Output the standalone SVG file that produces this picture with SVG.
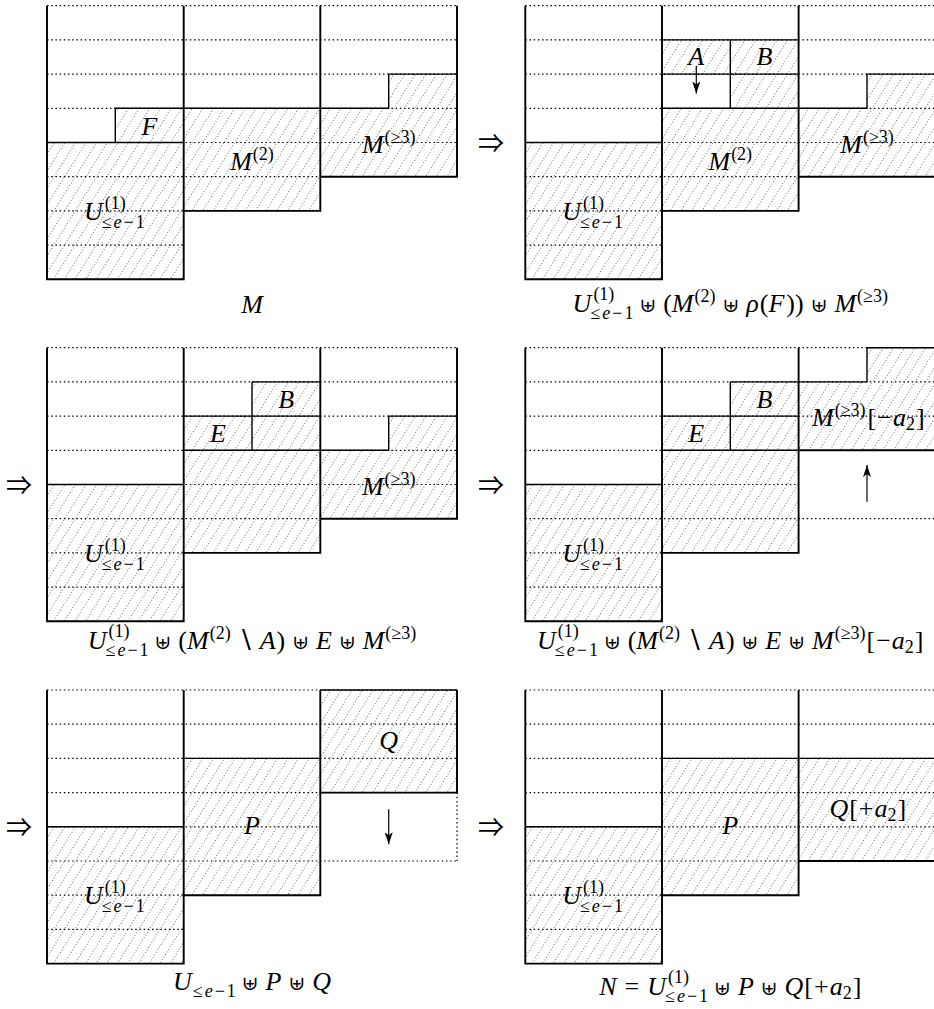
<svg xmlns="http://www.w3.org/2000/svg" width="934" height="1009" viewBox="0 0 934 1009">
<style>
.t{font-family:"Liberation Serif","DejaVu Serif",serif;font-size:26px;fill:#000}
.i{font-style:italic}
.s{font-size:18px}
.op{font-family:"DejaVu Serif","Liberation Serif",serif;font-size:20px}
.imp{font-family:"Noto Sans CJK JP","DejaVu Sans",sans-serif;font-size:26px;fill:#000}
.dot{fill:none;stroke:#000;stroke-width:1.2;stroke-dasharray:1.5 2.7}
.thk{fill:none;stroke:#000;stroke-width:1.9}
.med{fill:none;stroke:#000;stroke-width:1.4}
.hat{fill:url(#hatch);stroke:none}
.arr{fill:none;stroke:#000;stroke-width:1.2;marker-end:url(#head)}
</style>
<defs>
<pattern id="hatch" patternUnits="userSpaceOnUse" width="9" height="12" patternTransform="rotate(32)">
<line x1="4.5" y1="0" x2="4.5" y2="12" stroke="#555" stroke-width="0.8" stroke-dasharray="1 2"/>
</pattern>
<marker id="head" viewBox="0 0 12 8" refX="12" refY="4" markerWidth="12" markerHeight="8" markerUnits="userSpaceOnUse" orient="auto">
<path d="M0,0 L12,4 L0,8 L3,4 Z" fill="#000"/>
</marker>
</defs>

<!-- Panel 1 -->
<g id="panel-1">
<g id="p1-U"><rect class="hat" x="47" y="142.5" width="136.7" height="136.8"/>
<text class="t" x="115.3" y="220" text-anchor="middle"><tspan class="i">U</tspan><tspan class="s" dx="2" dy="-11.5">(1)</tspan><tspan class="s" dx="-24" dy="19" letter-spacing="2">≤<tspan class="i">e</tspan>−1</tspan></text></g>
<g id="p1-F"><rect class="hat" x="115.3" y="108.3" width="68.4" height="34.2"/>
<text class="t i" x="149.5" y="135" text-anchor="middle">F</text></g>
<g id="p1-M2"><rect class="hat" x="183.7" y="108.3" width="136.6" height="102.6"/>
<text class="t" x="252" y="170" text-anchor="middle"><tspan class="i">M</tspan><tspan class="s" dx="1" dy="-10">(2)</tspan></text></g>
<g id="p1-M3"><path class="hat" d="M320.3,108.3H388.7V74.1H457V176.7H320.3Z"/>
<text class="t" x="388.7" y="153" text-anchor="middle"><tspan class="i">M</tspan><tspan class="s" dx="1" dy="-10">(≥3)</tspan></text></g>
<path class="dot" d="M47,5.7H457M47,39.9H457M47,74.1H457M47,108.3H457M47,142.5H457M47,176.7H320.3M47,210.9H183.7M47,245.1H183.7"/>
<path class="med" d="M47,142.5H183.7M115.3,142.5V108.3H183.7M183.7,108.3H388.7V74.1H457"/>
<path class="thk" d="M47,5.7V279.3H183.7V5.7M183.7,210.9H320.3V5.7M320.3,176.7H457V5.7"/>
<text class="t i" x="252" y="313" text-anchor="middle">M</text>
</g>

<!-- Panel 2 -->
<g id="panel-2" transform="translate(478.3,0)">
<g id="p2-U"><rect class="hat" x="47" y="142.5" width="136.7" height="136.8"/>
<text class="t" x="115.3" y="220" text-anchor="middle"><tspan class="i">U</tspan><tspan class="s" dx="2" dy="-11.5">(1)</tspan><tspan class="s" dx="-24" dy="19" letter-spacing="2">≤<tspan class="i">e</tspan>−1</tspan></text></g>
<g id="p2-A"><rect class="hat" x="183.7" y="39.9" width="68.3" height="34.2"/>
<text class="t i" x="218" y="65" text-anchor="middle">A</text></g>
<g id="p2-B"><rect class="hat" x="252" y="39.9" width="68.3" height="68.4"/>
<text class="t i" x="286.2" y="65" text-anchor="middle">B</text></g>
<g id="p2-M2"><rect class="hat" x="183.7" y="108.3" width="136.6" height="102.6"/>
<text class="t" x="252" y="170" text-anchor="middle"><tspan class="i">M</tspan><tspan class="s" dx="1" dy="-10">(2)</tspan></text></g>
<g id="p2-M3"><path class="hat" d="M320.3,108.3H388.7V74.1H457V176.7H320.3Z"/>
<text class="t" x="388.7" y="153" text-anchor="middle"><tspan class="i">M</tspan><tspan class="s" dx="1" dy="-10">(≥3)</tspan></text></g>
<path class="dot" d="M47,5.7H457M47,39.9H457M47,74.1H457M47,108.3H457M47,142.5H457M47,176.7H320.3M47,210.9H183.7M47,245.1H183.7"/>
<path class="med" d="M47,142.5H183.7M183.7,39.9H320.3M183.7,74.1H320.3M252,39.9V108.3M183.7,108.3H388.7V74.1H457"/>
<path class="thk" d="M47,5.7V279.3H183.7V5.7M183.7,210.9H320.3V5.7M320.3,176.7H457V5.7"/>
<text class="t" x="252" y="311.5" text-anchor="middle"><tspan class="i">U</tspan><tspan class="s" dx="2" dy="-11.5">(1)</tspan><tspan class="s" dx="-24" dy="19" letter-spacing="2">≤<tspan class="i">e</tspan>−1</tspan><tspan class="op" dx="4" dy="-7.5">⊎</tspan><tspan dx="7">(</tspan><tspan class="i">M</tspan><tspan class="s" dx="1" dy="-10">(2)</tspan><tspan class="op" dx="7" dy="10">⊎</tspan><tspan class="i" dx="7">ρ</tspan><tspan dx="1">(</tspan><tspan class="i">F</tspan><tspan dx="2">))</tspan><tspan class="op" dx="7">⊎</tspan><tspan class="i" dx="7">M</tspan><tspan class="s" dx="1" dy="-10">(≥3)</tspan></text>
</g>

<!-- Panel 3 -->
<g id="panel-3" transform="translate(0,342)">
<g id="p3-U"><rect class="hat" x="47" y="142.5" width="136.7" height="136.8"/>
<text class="t" x="115.3" y="220" text-anchor="middle"><tspan class="i">U</tspan><tspan class="s" dx="2" dy="-11.5">(1)</tspan><tspan class="s" dx="-24" dy="19" letter-spacing="2">≤<tspan class="i">e</tspan>−1</tspan></text></g>
<g id="p3-E"><rect class="hat" x="183.7" y="74.1" width="68.3" height="34.2"/>
<text class="t i" x="218" y="100" text-anchor="middle">E</text></g>
<g id="p3-B"><rect class="hat" x="252" y="39.9" width="68.3" height="68.4"/>
<text class="t i" x="286.2" y="66" text-anchor="middle">B</text></g>
<g id="p3-M2"><rect class="hat" x="183.7" y="108.3" width="136.6" height="102.6"/></g>
<g id="p3-M3"><path class="hat" d="M320.3,108.3H388.7V74.1H457V176.7H320.3Z"/>
<text class="t" x="388.7" y="153" text-anchor="middle"><tspan class="i">M</tspan><tspan class="s" dx="1" dy="-10">(≥3)</tspan></text></g>
<path class="dot" d="M47,5.7H457M47,39.9H457M47,74.1H457M47,108.3H457M47,142.5H457M47,176.7H320.3M47,210.9H183.7M47,245.1H183.7"/>
<path class="med" d="M47,142.5H183.7M252,39.9H320.3M183.7,74.1H320.3M252,39.9V108.3M183.7,108.3H388.7V74.1H457"/>
<path class="thk" d="M47,5.7V279.3H183.7V5.7M183.7,210.9H320.3V5.7M320.3,176.7H457V5.7"/>
<text class="t" x="252" y="306.5" text-anchor="middle"><tspan class="i">U</tspan><tspan class="s" dx="2" dy="-11.5">(1)</tspan><tspan class="s" dx="-24" dy="19" letter-spacing="2">≤<tspan class="i">e</tspan>−1</tspan><tspan class="op" dx="4" dy="-7.5">⊎</tspan><tspan dx="7">(</tspan><tspan class="i">M</tspan><tspan class="s" dx="1" dy="-10">(2)</tspan><tspan dx="6" dy="10">∖</tspan><tspan class="i" dx="6">A</tspan><tspan dx="1">)</tspan><tspan class="op" dx="7">⊎</tspan><tspan class="i" dx="7">E</tspan><tspan class="op" dx="7">⊎</tspan><tspan class="i" dx="7">M</tspan><tspan class="s" dx="1" dy="-10">(≥3)</tspan></text>
</g>

<!-- Panel 4 -->
<g id="panel-4" transform="translate(478.3,342)">
<g id="p4-U"><rect class="hat" x="47" y="142.5" width="136.7" height="136.8"/>
<text class="t" x="115.3" y="220" text-anchor="middle"><tspan class="i">U</tspan><tspan class="s" dx="2" dy="-11.5">(1)</tspan><tspan class="s" dx="-24" dy="19" letter-spacing="2">≤<tspan class="i">e</tspan>−1</tspan></text></g>
<g id="p4-E"><rect class="hat" x="183.7" y="74.1" width="68.3" height="34.2"/>
<text class="t i" x="218" y="100" text-anchor="middle">E</text></g>
<g id="p4-B"><rect class="hat" x="252" y="39.9" width="68.3" height="68.4"/>
<text class="t i" x="286.2" y="66" text-anchor="middle">B</text></g>
<g id="p4-M2"><rect class="hat" x="183.7" y="108.3" width="136.6" height="102.6"/></g>
<g id="p4-M3"><path class="hat" d="M320.3,108.3V39.9H388.7V5.7H457V108.3Z"/>
<text class="t" x="390" y="84" text-anchor="middle"><tspan class="i">M</tspan><tspan class="s" dx="1" dy="-10">(≥3)</tspan><tspan dx="2" dy="10" letter-spacing="1">[−</tspan><tspan class="i">a</tspan><tspan class="s" dy="4">2</tspan><tspan dx="1" dy="-4">]</tspan></text></g>
<path class="dot" d="M47,5.7H457M47,39.9H457M47,74.1H457M47,108.3H457M47,142.5H320.3M47,176.7H457M47,210.9H183.7M47,245.1H183.7"/>
<path class="med" d="M47,142.5H183.7M252,39.9H320.3M183.7,74.1H320.3M252,39.9V108.3M183.7,108.3H320.3M320.3,39.9H388.7V5.7H457"/>
<path class="thk" d="M47,5.7V279.3H183.7V5.7M183.7,210.9H320.3V5.7M320.3,108.3H457V5.7"/>
<text class="t" x="252" y="306.5" text-anchor="middle"><tspan class="i">U</tspan><tspan class="s" dx="2" dy="-11.5">(1)</tspan><tspan class="s" dx="-24" dy="19" letter-spacing="2">≤<tspan class="i">e</tspan>−1</tspan><tspan class="op" dx="4" dy="-7.5">⊎</tspan><tspan dx="7">(</tspan><tspan class="i">M</tspan><tspan class="s" dx="1" dy="-10">(2)</tspan><tspan dx="6" dy="10">∖</tspan><tspan class="i" dx="6">A</tspan><tspan dx="1">)</tspan><tspan class="op" dx="7">⊎</tspan><tspan class="i" dx="7">E</tspan><tspan class="op" dx="7">⊎</tspan><tspan class="i" dx="7">M</tspan><tspan class="s" dx="1" dy="-10">(≥3)</tspan><tspan dx="1" dy="10" letter-spacing="1">[−</tspan><tspan class="i">a</tspan><tspan class="s" dy="4">2</tspan><tspan dx="1" dy="-4">]</tspan></text>
</g>

<!-- Panel 5 -->
<g id="panel-5" transform="translate(0,684.3)">
<g id="p5-U"><rect class="hat" x="47" y="142.5" width="136.7" height="136.8"/>
<text class="t" x="115.3" y="220" text-anchor="middle"><tspan class="i">U</tspan><tspan class="s" dx="2" dy="-11.5">(1)</tspan><tspan class="s" dx="-24" dy="19" letter-spacing="2">≤<tspan class="i">e</tspan>−1</tspan></text></g>
<g id="p5-P"><rect class="hat" x="183.7" y="74.1" width="136.6" height="136.8"/>
<text class="t i" x="252" y="150" text-anchor="middle">P</text></g>
<g id="p5-Q"><rect class="hat" x="320.3" y="5.7" width="136.7" height="102.6"/>
<text class="t i" x="388.7" y="65" text-anchor="middle">Q</text></g>
<path class="dot" d="M47,5.7H457M47,39.9H457M47,74.1H457M47,108.3H457M47,142.5H320.3M47,176.7H457M47,210.9H183.7M47,245.1H183.7M457,108.3V176.7"/>
<path class="med" d="M47,142.5H183.7M183.7,74.1H320.3M320.3,5.7H457"/>
<path class="thk" d="M47,5.7V279.3H183.7V5.7M183.7,210.9H320.3V5.7M320.3,108.3H457V5.7"/>
<text class="t" x="252" y="305.7" text-anchor="middle"><tspan class="i">U</tspan><tspan class="s" dx="1" dy="7.5" letter-spacing="2">≤<tspan class="i">e</tspan>−1</tspan><tspan class="op" dx="4" dy="-7.5">⊎</tspan><tspan class="i" dx="7">P</tspan><tspan class="op" dx="7">⊎</tspan><tspan class="i" dx="7">Q</tspan></text>
</g>

<!-- Panel 6 -->
<g id="panel-6" transform="translate(478.3,684.3)">
<g id="p6-U"><rect class="hat" x="47" y="142.5" width="136.7" height="136.8"/>
<text class="t" x="115.3" y="220" text-anchor="middle"><tspan class="i">U</tspan><tspan class="s" dx="2" dy="-11.5">(1)</tspan><tspan class="s" dx="-24" dy="19" letter-spacing="2">≤<tspan class="i">e</tspan>−1</tspan></text></g>
<g id="p6-P"><rect class="hat" x="183.7" y="74.1" width="136.6" height="136.8"/>
<text class="t i" x="252" y="150" text-anchor="middle">P</text></g>
<g id="p6-Q"><rect class="hat" x="320.3" y="74.1" width="136.7" height="102.6"/>
<text class="t" x="389.5" y="133" text-anchor="middle"><tspan class="i">Q</tspan><tspan dx="1" letter-spacing="1">[+</tspan><tspan class="i">a</tspan><tspan class="s" dy="4">2</tspan><tspan dx="1" dy="-4">]</tspan></text></g>
<path class="dot" d="M47,5.7H457M47,39.9H457M47,74.1H457M47,108.3H457M47,142.5H457M47,176.7H320.3M47,210.9H183.7M47,245.1H183.7"/>
<path class="med" d="M47,142.5H183.7M183.7,74.1H457"/>
<path class="thk" d="M47,5.7V279.3H183.7V5.7M183.7,210.9H320.3V5.7M320.3,176.7H457V5.7"/>
<text class="t" x="252" y="310.7" text-anchor="middle"><tspan class="i">N</tspan><tspan dx="8">=</tspan><tspan class="i" dx="8">U</tspan><tspan class="s" dx="2" dy="-11.5">(1)</tspan><tspan class="s" dx="-24" dy="19" letter-spacing="2">≤<tspan class="i">e</tspan>−1</tspan><tspan class="op" dx="4" dy="-7.5">⊎</tspan><tspan class="i" dx="7">P</tspan><tspan class="op" dx="7">⊎</tspan><tspan class="i" dx="7">Q</tspan><tspan dx="1" letter-spacing="1">[+</tspan><tspan class="i">a</tspan><tspan class="s" dy="4">2</tspan><tspan dx="1" dy="-4">]</tspan></text>
</g>

<!-- step implications -->
<g id="steps">
<text class="imp" x="491" y="152.5" text-anchor="middle">⇒</text>
<text class="imp" x="19" y="494.5" text-anchor="middle">⇒</text>
<text class="imp" x="491" y="494.5" text-anchor="middle">⇒</text>
<text class="imp" x="19" y="836.8" text-anchor="middle">⇒</text>
<text class="imp" x="491" y="836.8" text-anchor="middle">⇒</text>
</g>

<!-- connectors -->
<g id="connectors">
<line class="arr" x1="696.3" y1="66" x2="696.3" y2="93.5"/>
<line class="arr" x1="867" y1="501.7" x2="867" y2="465"/>
<line class="arr" x1="388.7" y1="809.3" x2="388.7" y2="844.3"/>
</g>
</svg>
